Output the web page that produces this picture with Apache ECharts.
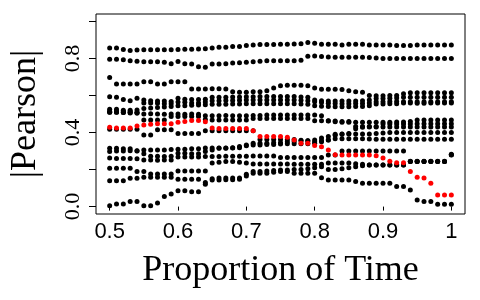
<!DOCTYPE html>
<html><head><meta charset="utf-8">
<script src="https://cdn.jsdelivr.net/npm/echarts@6/dist/echarts.min.js"></script>
<style>html,body{margin:0;padding:0;background:#fff}#c{width:480px;height:300px}</style>
</head><body><div id="c"></div><script>
const proportions = [0.50,0.51,0.52,0.53,0.54,0.55,0.56,0.57,0.58,0.59,
  0.60,0.61,0.62,0.63,0.64,0.65,0.66,0.67,0.68,0.69,
  0.70,0.71,0.72,0.73,0.74,0.75,0.76,0.77,0.78,0.79,
  0.80,0.81,0.82,0.83,0.84,0.85,0.86,0.87,0.88,0.89,
  0.90,0.91,0.92,0.93,0.94,0.95,0.96,0.97,0.98,0.99,1.00];
const xTicks = [0.5,0.6,0.7,0.8,0.9,1.0];
const xTickLabels = ['0.5','0.6','0.7','0.8','0.9','1'];
const yTicks = [0,0.2,0.4,0.6,0.8,1.0];
const yLabelTicks = [0,0.4,0.8];
const yTickLabels = ['0.0','0.4','0.8'];

const s1 = [0.856,0.856,0.848,0.843,0.846,0.847,0.847,0.847,0.847,0.847,
 0.848,0.850,0.850,0.851,0.853,0.856,0.860,0.860,0.864,0.864,
 0.870,0.873,0.875,0.875,0.875,0.876,0.876,0.878,0.880,0.886,
 0.882,0.877,0.877,0.877,0.872,0.877,0.877,0.877,0.872,0.872,
 0.872,0.872,0.870,0.870,0.870,0.872,0.872,0.872,0.872,0.872,0.872];
const s2 = [0.795,0.795,0.793,0.788,0.785,0.782,0.782,0.782,0.780,0.772,
 0.783,0.772,0.770,0.755,0.752,0.770,0.770,0.772,0.775,0.777,
 0.780,0.782,0.785,0.787,0.787,0.787,0.787,0.787,0.790,0.812,
 0.813,0.810,0.808,0.807,0.807,0.807,0.807,0.807,0.805,0.803,
 0.800,0.800,0.800,0.800,0.800,0.800,0.800,0.800,0.800,0.800,0.800];
const s3 = [0.697,0.662,0.662,0.662,0.662,0.674,0.674,0.662,0.662,0.674,
 0.674,0.674,0.635,0.635,0.635,0.636,0.636,0.635,0.620,0.618,
 0.618,0.620,0.620,0.625,0.640,0.652,0.655,0.655,0.655,0.652,
 0.640,0.633,0.633,0.633,0.632,0.625,0.620,0.618,0.600,0.598,
 0.598,0.600,0.600,0.610,0.615,0.615,0.615,0.615,0.615,0.615,0.615];
const s4 = [0.593,0.590,0.578,0.572,0.585,0.575,0.572,0.570,0.570,0.568,
 0.585,0.580,0.578,0.578,0.580,0.590,0.590,0.590,0.592,0.592,
 0.593,0.593,0.594,0.594,0.594,0.595,0.595,0.594,0.592,0.590,
 0.575,0.572,0.570,0.570,0.570,0.570,0.570,0.572,0.576,0.584,
 0.584,0.585,0.586,0.590,0.590,0.590,0.590,0.590,0.590,0.590,0.590];
const s5 = [0.525,0.525,0.520,0.520,0.522,0.560,0.560,0.558,0.556,0.556,
 0.565,0.563,0.560,0.560,0.565,0.572,0.572,0.573,0.573,0.574,
 0.575,0.575,0.575,0.576,0.576,0.575,0.575,0.575,0.574,0.572,
 0.566,0.562,0.558,0.557,0.556,0.556,0.557,0.557,0.560,0.566,
 0.566,0.567,0.567,0.566,0.566,0.566,0.566,0.566,0.566,0.566,0.566];
const s6 = [0.510,0.510,0.508,0.505,0.505,0.530,0.532,0.535,0.538,0.540,
 0.545,0.545,0.547,0.548,0.550,0.553,0.553,0.553,0.554,0.554,
 0.555,0.555,0.556,0.556,0.556,0.556,0.555,0.555,0.554,0.552,
 0.545,0.542,0.540,0.539,0.539,0.539,0.540,0.540,0.545,0.554,
 0.554,0.555,0.556,0.560,0.560,0.558,0.558,0.560,0.560,0.560,0.560];
const s7 = [0.515,0.515,0.512,0.512,0.510,0.500,0.502,0.500,0.498,0.500,
 0.500,0.498,0.500,0.498,0.490,0.490,0.490,0.492,0.490,0.490,
 0.490,0.492,0.492,0.494,0.494,0.494,0.494,0.494,0.494,0.494,
 0.494,0.490,0.462,0.462,0.460,0.460,0.432,0.432,0.432,0.432,
 0.446,0.446,0.446,0.446,0.446,0.448,0.448,0.448,0.448,0.448,0.448];
const s8 = [0.510,0.510,0.508,0.508,0.506,0.467,0.467,0.467,0.467,0.487,
 0.487,0.487,0.487,0.487,0.470,0.467,0.467,0.467,0.467,0.467,
 0.467,0.476,0.476,0.476,0.476,0.476,0.476,0.476,0.476,0.476,
 0.464,0.464,0.464,0.458,0.455,0.455,0.455,0.455,0.455,0.455,
 0.455,0.455,0.457,0.457,0.460,0.468,0.468,0.468,0.468,0.468,0.468];
const s9 = [0.417,0.417,0.417,0.417,0.417,0.386,0.386,0.415,0.415,0.415,
 0.395,0.395,0.395,0.395,0.410,0.410,0.410,0.410,0.410,0.410,
 0.410,0.410,0.362,0.362,0.362,0.362,0.362,0.362,0.358,0.355,
 0.350,0.350,0.360,0.390,0.392,0.392,0.392,0.392,0.392,0.395,
 0.398,0.400,0.400,0.400,0.400,0.400,0.400,0.400,0.400,0.400,0.400];
const s10 = [0.315,0.315,0.312,0.312,0.300,0.285,0.272,0.272,0.270,0.272,
 0.288,0.288,0.286,0.286,0.297,0.305,0.315,0.315,0.316,0.325,
 0.328,0.342,0.342,0.342,0.345,0.345,0.350,0.352,0.355,0.355,
 0.360,0.370,0.378,0.385,0.390,0.395,0.420,0.428,0.430,0.430,
 0.430,0.430,0.430,0.430,0.430,0.430,0.430,0.430,0.430,0.430,0.430];
const s11 = [0.297,0.300,0.300,0.302,0.302,0.305,0.305,0.305,0.305,0.308,
 0.310,0.310,0.312,0.312,0.316,0.317,0.317,0.317,0.318,0.318,
 0.333,0.333,0.333,0.335,0.335,0.338,0.340,0.340,0.340,0.340,
 0.342,0.355,0.360,0.367,0.367,0.367,0.367,0.367,0.365,0.363,
 0.363,0.363,0.363,0.363,0.363,0.363,0.363,0.363,0.363,0.363,0.363];
const s12 = [0.262,0.260,0.260,0.260,0.258,0.252,0.252,0.250,0.252,0.252,
 0.268,0.268,0.268,0.268,0.270,0.270,0.270,0.272,0.272,0.272,
 0.272,0.273,0.273,0.273,0.273,0.265,0.265,0.265,0.265,0.265,
 0.265,0.265,0.278,0.278,0.300,0.300,0.300,0.300,0.300,0.300,
 0.300,0.300,0.300,0.300,0.245,0.245,0.245,0.245,0.245,0.245,0.280];
const s13 = [0.207,0.207,0.207,0.207,0.190,0.190,0.176,0.176,0.176,0.176,
 0.192,0.192,0.192,0.192,0.192,0.235,0.240,0.243,0.243,0.240,
 0.235,0.230,0.230,0.230,0.230,0.230,0.230,0.228,0.228,0.228,
 0.228,0.228,0.235,0.235,0.235,0.235,0.232,0.228,0.225,0.225,
 0.225,0.225,0.225,0.225,0.243,0.243,0.243,0.243,0.243,0.243,0.282];
const s14 = [0.139,0.139,0.140,0.153,0.153,0.158,0.158,0.158,0.158,0.158,
 0.147,0.147,0.147,0.147,0.130,0.144,0.144,0.145,0.145,0.148,
 0.165,0.190,0.190,0.192,0.195,0.198,0.198,0.200,0.200,0.205,
 0.210,0.215,0.200,0.200,0.205,0.210,0.215,0.220,0.225,0.225,
 0.225,0.225,0.225,0.225,0.243,0.243,0.243,0.243,0.243,0.243,0.278];
const s15 = [0.004,0.014,0.014,0.027,0.027,0.004,0.004,0.020,0.054,0.068,
 0.086,0.086,0.080,0.080,0.120,0.150,0.155,0.155,0.155,0.155,
 0.175,0.180,0.180,0.180,0.185,0.190,0.190,0.180,0.180,0.180,
 0.180,0.156,0.144,0.144,0.144,0.144,0.135,0.126,0.126,0.126,
 0.126,0.126,0.108,0.108,0.090,0.036,0.027,0.027,0.013,0.013,0.013];
const highlighted = [0.428,0.425,0.425,0.425,0.435,0.440,0.445,0.447,0.447,0.448,
 0.455,0.460,0.465,0.465,0.458,0.425,0.422,0.422,0.422,0.422,
 0.422,0.410,0.378,0.378,0.378,0.378,0.375,0.360,0.342,0.342,
 0.330,0.323,0.305,0.280,0.278,0.278,0.278,0.278,0.278,0.275,
 0.262,0.245,0.237,0.237,0.190,0.158,0.155,0.126,0.063,0.062,0.062];

const blackSeries = [s1,s2,s3,s4,s5,s6,s7,s8,s9,s10,s11,s12,s13,s14,s15];

function findLabel(v, ticks, labels){
  const k = ticks.findIndex(t => Math.abs(t - v) < 1e-9);
  return k >= 0 ? labels[k] : '';
}
function mk(vals, color){
  return {type:'scatter', data: vals.map((v,i)=>[proportions[i], v]),
    symbol:'circle', symbolSize:5, itemStyle:{color:color, opacity:1}, silent:true};
}
const series = blackSeries.map(s => mk(s, '#000000'));
series.push(mk(highlighted, '#ff0000'));

const chart = echarts.init(document.getElementById('c'), null, {renderer:'canvas'});
chart.setOption({
  animation:false,
  backgroundColor:'#ffffff',
  grid:{left:93, right:15, top:14, bottom:86, show:true, borderColor:'#000', borderWidth:1, backgroundColor:'transparent'},
  xAxis:{type:'value', min:0.48, max:1.02,
    axisLine:{show:false}, splitLine:{show:false},
    axisTick:{show:true, customValues:xTicks, length:4, lineStyle:{color:'#000', width:1}},
    axisLabel:{customValues:xTicks, formatter:v=>findLabel(v, xTicks, xTickLabels), color:'#000',
      fontFamily:'Liberation Sans', fontSize:22, margin:7},
    name:'Proportion of Time', nameLocation:'middle', nameGap:39,
    nameTextStyle:{fontFamily:'Liberation Serif', fontSize:36, color:'#000'}},
  yAxis:{type:'value', min:-0.04, max:1.04,
    axisLine:{show:false}, splitLine:{show:false},
    axisTick:{show:true, customValues:yTicks, length:7, lineStyle:{color:'#000', width:1}},
    axisLabel:{customValues:yLabelTicks, formatter:v=>findLabel(v, yLabelTicks, yTickLabels), color:'#000',
      fontFamily:'Liberation Serif', fontSize:22, margin:12, rotate:90},
    name:'|Pearson|', nameLocation:'middle', nameGap:52,
    nameTextStyle:{fontFamily:'Liberation Serif', fontSize:36, color:'#000'}},
  series: series
});
</script></body></html>
